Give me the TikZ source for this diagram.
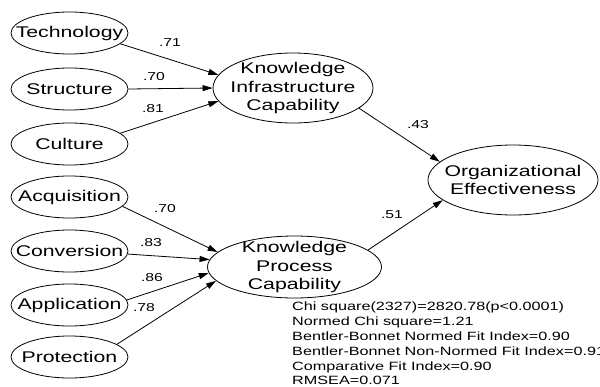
\documentclass[tikz,border=0pt]{standalone}
\usepackage{fontspec}
\setmainfont{Liberation Sans}[FakeStretch=1.37]
\newfontfamily\statfont{Liberation Sans}[FakeStretch=1.35]
\usetikzlibrary{shapes.geometric,arrows.meta}
\begin{document}
\begin{tikzpicture}[x=1pt,y=-1pt,
  src/.style={ellipse,draw,line width=0.8pt,minimum width=117pt,minimum height=42pt,inner sep=0pt,
    label={[inner sep=0pt,font=\fontsize{15.5}{18.5}\selectfont]center:#1}},
  lat/.style={ellipse,draw,line width=0.8pt,inner sep=0pt,
    label={[inner sep=0pt,align=center,font=\fontsize{15.5}{18.5}\selectfont]center:#1}},
  path/.style={line width=0.8pt,-{Triangle[length=10pt,width=6pt]}},
  coef/.style={font=\fontsize{11.5}{13}\selectfont,inner sep=0pt}]
\useasboundingbox (0,0) rectangle (600,386);
% indicators
\node[src=Technology] (tech) at (69.5,33) {};
\node[src=Structure] (struc) at (69.5,89) {};
\node[src=Culture] (cult) at (69.5,144) {};
\node[src=Acquisition] (acq) at (69.5,197) {};
\node[src=Conversion] (conv) at (69.5,251) {};
\node[src=Application] (appl) at (69.5,305) {};
\node[src=Protection] (prot) at (69.5,357) {};
% latent
\node[lat={Knowledge\\Infrastructure\\Capability},minimum width=160pt,minimum height=70pt] (kic) at (293,88) {};
\node[lat={Knowledge\\Process\\Capability},minimum width=174pt,minimum height=62pt] (kpc) at (294.5,267) {};
\node[lat={Organizational\\Effectiveness},minimum width=170pt,minimum height=70pt] (oe) at (513,180) {};
% paths
\draw[path] (tech.-12) -- (kic.170);
\draw[path] (struc.0) -- (kic.180);
\draw[path] (cult.12) -- (kic.190);
\draw[path] (acq.-10) -- (kpc.169.5);
\draw[path] (conv.-3) -- (kpc.175.8);
\draw[path] (appl.5) -- (kpc.184.2);
\draw[path] (prot.15) -- (kpc.190.5);
\draw[path] (kic.-17) -- (oe.166);
\draw[path] (kpc.13) -- (oe.196);
% coefficients
\node[coef] (c1) at (170,43) {.71};
\node[coef] (c2) at (154,77) {.70};
\node[coef] (c3) at (153,109) {.81};
\node[coef] (c4) at (165,209) {.70};
\node[coef] (c5) at (151,243) {.83};
\node[coef] (c6) at (152,278) {.86};
\node[coef] (c7) at (144,308) {.78};
\node[coef] (c8) at (418,125) {.43};
\node[coef] (c9) at (392,215) {.51};
% fit statistics
\node[anchor=north west,inner sep=0pt,align=left,font=\statfont\fontsize{12}{14.8}\selectfont] (fit) at (292,302)
 {Chi square(2327)=2820.78(p<0.0001)\\Normed Chi square=1.21\\Bentler-Bonnet Normed Fit Index=0.90\\Bentler-Bonnet Non-Normed Fit Index=0.91\\Comparative Fit Index=0.90\\RMSEA=0.071};
\end{tikzpicture}
\end{document}
